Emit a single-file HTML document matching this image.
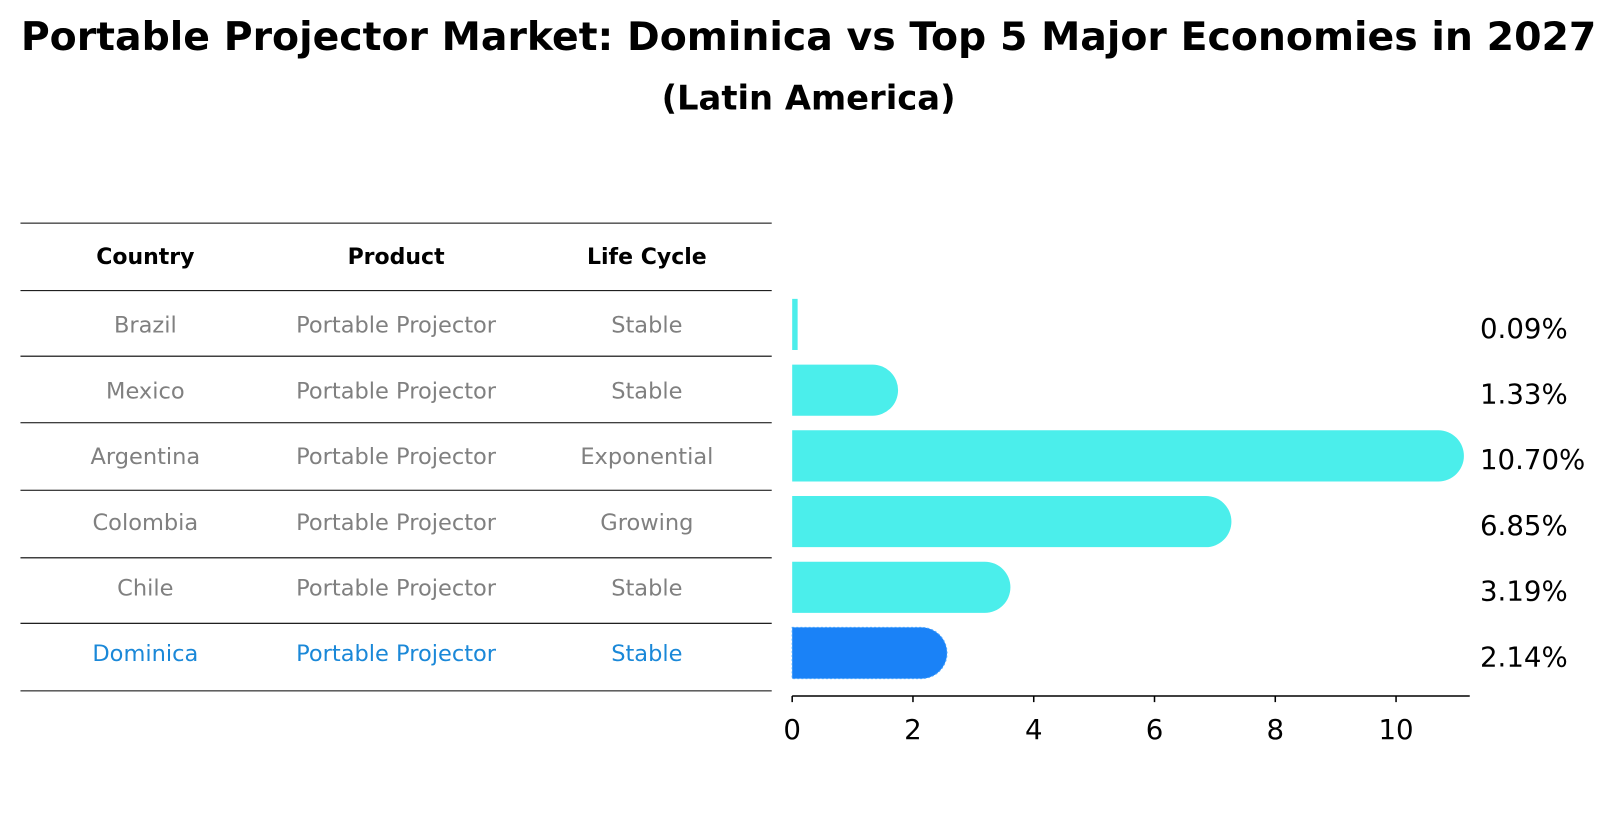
<!DOCTYPE html>
<html><head><meta charset="utf-8"><style>
body{margin:0;background:#fff;font-family:"DejaVu Sans","Liberation Sans",sans-serif;}
</style></head><body>
<svg id="c" width="1604" height="823" xmlns="http://www.w3.org/2000/svg" font-family="DejaVu Sans, Liberation Sans, sans-serif">
<g transform="scale(1.0235)">
<text x="790" y="49" text-anchor="middle" font-size="38.5" font-weight="bold">Portable Projector Market: Dominica vs Top 5 Major Economies in 2027</text>
<text x="790" y="107" text-anchor="middle" font-size="33" font-weight="bold">(Latin America)</text>
<g id="table"></g>
<g id="bars"></g>
</g>
</svg>
<script>
const countries=["Brazil","Mexico","Argentina","Colombia","Chile","Dominica"];
const products=["Portable Projector","Portable Projector","Portable Projector","Portable Projector","Portable Projector","Portable Projector"];
const lifecycles=["Stable","Stable","Exponential","Growing","Stable","Stable"];
const values=[0.09,1.33,10.70,6.85,3.19,2.14];
const valueLabels=["0.09%","1.33%","10.70%","6.85%","3.19%","2.14%"];
const ticks=[0,2,4,6,8,10];
const NS="http://www.w3.org/2000/svg";
function mk(t,a,p){const e=document.createElementNS(NS,t);for(const k in a)e.setAttribute(k,a[k]);p.appendChild(e);return e;}
const tb=document.getElementById('table'), bg=document.getElementById('bars');
const lineY=[218,284,348,413,479,545,609,675];
const colX=[142,387,632];
lineY.forEach((y,i)=>{const l=mk('line',{x1:20,x2:754,y1:y,y2:y,stroke:'#000','stroke-width':1},tb);

});
["Country","Product","Life Cycle"].forEach((h,i)=>{const t=mk('text',{x:colX[i],y:258,'text-anchor':'middle','font-size':21.5,'font-weight':'bold'},tb);t.textContent=h;

});
const x0=774, ppu=59;
const xs=v=>x0+v*ppu;
const rowY=i=>317+i*64.2;
countries.forEach((c,i)=>{
 const hl=c==="Dominica"; const col=hl?'#1a88d8':'#808080';
 [c,products[i],lifecycles[i]].forEach((s,j)=>{const t=mk('text',{x:colX[j],y:rowY(i)+8,'text-anchor':'middle','font-size':22,fill:col},tb);t.textContent=s;
 
 });
 const fill=hl?'#1a82f7':'#4beeeb';
 const h=50, y=rowY(i)-h/2, w=xs(values[i])-x0;
 const r=values[i]>0.5?h/2:0;
 const p=mk('path',{d:`M${x0},${y}H${x0+w}`+(r?`A${r},${r} 0 0 1 ${x0+w},${y+h}`:`V${y+h}`)+`H${x0}Z`,fill:fill},bg);
 if(hl){p.setAttribute('stroke','#4aa6ff');p.setAttribute('stroke-dasharray','2 2');p.setAttribute('stroke-width','1');}
 
 
 const t=mk('text',{x:1446,y:rowY(i)+13,'font-size':27},bg);t.textContent=valueLabels[i];
 
 
});
const ax=mk('line',{x1:x0,x2:1436,y1:680,y2:680,stroke:'#000','stroke-width':1.5},bg);


ticks.forEach(v=>{const l=mk('line',{x1:xs(v),x2:xs(v),y1:680,y2:686,stroke:'#000','stroke-width':1.5},bg);


const t=mk('text',{x:xs(v),y:722,'text-anchor':'middle','font-size':27},bg);t.textContent=v;

});
</script>
</body></html>
